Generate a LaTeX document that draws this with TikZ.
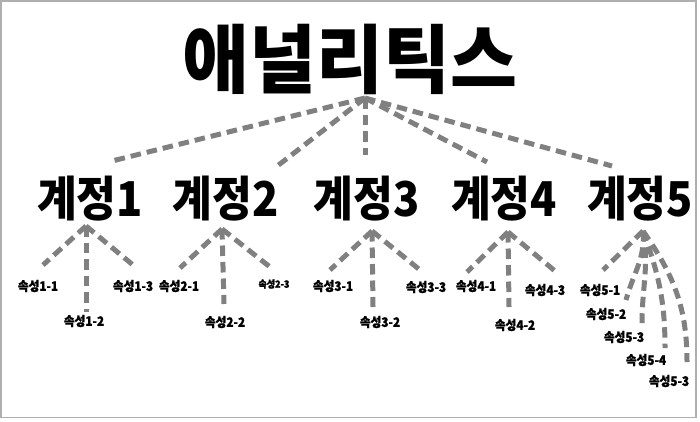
\documentclass[tikz,border=0pt]{standalone}
\usepackage{fontspec}
\newfontfamily\titlefont{Noto Sans CJK KR Black}[FakeStretch=0.97]
\newfontfamily\acctfont{Noto Sans CJK KR Black}[FakeStretch=0.9]
\newfontfamily\labfont{Noto Sans CJK KR Black}[FakeStretch=0.9, FakeBold=1.2]
\definecolor{conngray}{RGB}{128,128,128}
\definecolor{framegray}{RGB}{175,175,175}
\tikzset{
  conn/.style={draw=conngray, line width=5pt, dash pattern=on 10.5pt off 6pt},
  titletext/.style={inner sep=0pt, font=\titlefont\fontsize{75}{80}\selectfont},
  acct/.style={inner sep=0pt, font=\acctfont\fontsize{48}{52}\selectfont},
  attr/.style={inner sep=0pt, font=\labfont\fontsize{13}{15}\selectfont},
  attrsmall/.style={inner sep=0pt, font=\labfont\fontsize{10}{12}\selectfont},
}
\begin{document}
\begin{tikzpicture}[x=1pt,y=-1pt]
\useasboundingbox (0,0) rectangle (700,421);
\draw[framegray, line width=1.5pt] (1,1) rectangle (696,417.5);

% text nodes
\node[titletext] (title) at (350,59) {애널리틱스};
\node[acct] (g1) at (90,198.5) {계정1};
\node[acct] (g2) at (225.5,198.5) {계정2};
\node[acct] (g3) at (366.5,198.5) {계정3};
\node[acct] (g4) at (504,198.5) {계정4};
\node[acct] (g5) at (640,198.5) {계정5};

\node[attr] (a11) at (38,286) {속성1-1};
\node[attr] (a12) at (84,321) {속성1-2};
\node[attr] (a13) at (133,286) {속성1-3};
\node[attr] (a21) at (179,286) {속성2-1};
\node[attr] (a22) at (225,322) {속성2-2};
\node[attrsmall] (a23) at (274,284) {속성2-3};
\node[attr] (a31) at (333,286) {속성3-1};
\node[attr] (a32) at (380,322) {속성3-2};
\node[attr] (a33) at (426,287) {속성3-3};
\node[attr] (a41) at (476,286) {속성4-1};
\node[attr] (a42) at (515,325) {속성4-2};
\node[attr] (a43) at (545,290) {속성4-3};
\node[attr] (a51) at (600,290) {속성5-1};
\node[attr] (a52) at (606,314) {속성5-2};
\node[attr] (a53) at (624,337) {속성5-3};
\node[attr] (a54) at (646,360) {속성5-4};
\node[attr] (a55) at (669,381) {속성5-3};

% connector hubs and ends
\coordinate (h0) at (365,98);
\coordinate (t1) at (112,161);
\coordinate (t2) at (276,167);
\coordinate (t3) at (365,155);
\coordinate (t4) at (487,162);
\coordinate (t5) at (612,166);

\coordinate (h1) at (86,226);
\coordinate (e11) at (43,265);
\coordinate (e12) at (86,312);
\coordinate (e13) at (133,265);

\coordinate (h2) at (222,229);
\coordinate (e21) at (180,268);
\coordinate (e22) at (224,304);
\coordinate (e23) at (270,267);

\coordinate (h3) at (372,231);
\coordinate (e31) at (330,270);
\coordinate (e32) at (373,307);
\coordinate (e33) at (420,270);

\coordinate (h4) at (508,232);
\coordinate (e41) at (467,272);
\coordinate (e42) at (509,307);
\coordinate (e43) at (555,271);

\coordinate (h5) at (643,231);
\coordinate (e51) at (603,270);
\coordinate (e52) at (626,300);
\coordinate (e53) at (642,323);
\coordinate (e54) at (665,348);
\coordinate (e55) at (687,362);

% connectors
\foreach \t in {t1,t2,t3,t4,t5} \draw[conn] (h0) -- (\t);
\foreach \e in {e11,e12,e13} \draw[conn] (h1) -- (\e);
\foreach \e in {e21,e22,e23} \draw[conn] (h2) -- (\e);
\foreach \e in {e31,e32,e33} \draw[conn] (h3) -- (\e);
\foreach \e in {e41,e42,e43} \draw[conn] (h4) -- (\e);
\draw[conn] (h5) -- (e51);
\draw[conn] (h5) to[out=-85,in=75] (e52);
\draw[conn] (h5) to[out=-80,in=90] (e53);
\draw[conn] (h5) to[out=-70,in=90] (e54);
\draw[conn] (h5) to[out=-55,in=90] (e55);
\end{tikzpicture}
\end{document}
